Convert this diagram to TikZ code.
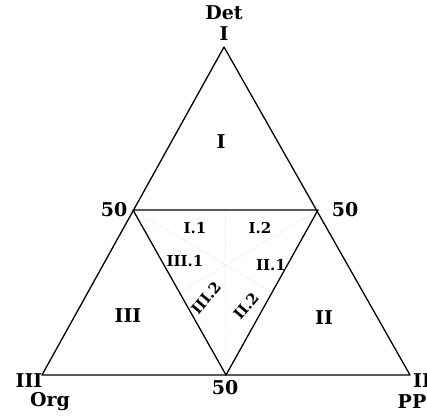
\documentclass[tikz,border=0pt]{standalone}
\usepackage{fontspec}
\setmainfont{DejaVu Serif}
\usetikzlibrary{calc}
\begin{document}
\begin{tikzpicture}[x=1pt,y=-1pt,
  edge/.style={line width=1.3pt,line join=round},
  faint/.style={densely dotted,gray!40,line width=0.5pt},
  big/.style={font=\bfseries\fontsize{19}{19}\selectfont,inner sep=0pt},
  small/.style={font=\bfseries\fontsize{15}{15}\selectfont,inner sep=0pt}]
\useasboundingbox (0,0) rectangle (427,416);
\coordinate (T) at (224,47);
\coordinate (L) at (42,375);
\coordinate (R) at (410,375);
\coordinate (ML) at (133,210);
\coordinate (MR) at (318,210);
\coordinate (MB) at (226,375);
\coordinate (MT) at ($(ML)!0.5!(MR)$);
\coordinate (mL) at ($(ML)!0.5!(MB)$);
\coordinate (mR) at ($(MR)!0.5!(MB)$);
% faint partition lines
\draw[faint] (MT) -- (MB);
\draw[faint] (ML) -- (mR);
\draw[faint] (MR) -- (mL);
\draw[edge] (T) -- (R) -- (L) -- cycle;
\draw[edge] (ML) -- (MR) -- (MB) -- cycle;
% labels
\node[big] (det) at (224,13) {Det};
\node[big] (tI) at (224,34) {I};
\node[big] (rI) at (221,142) {I};
\node[big] (l50) at (114,210) {50};
\node[big] (r50) at (345,210) {50};
\node[big] (b50) at (225,388) {50};
\node[big] (lIII) at (29,381) {III};
\node[big] (org) at (50,402) {Org};
\node[big,anchor=west] (rII) at (413,381) {II};
\node[big] (pp) at (412,402) {PP};
\node[big] (rIII) at (128,316) {III};
\node[big] (rII2) at (324,318) {II};
\node[small] (i1) at (195,228) {I.1};
\node[small] (i2) at (260,228) {I.2};
\node[small] (iii1) at (185,261) {III.1};
\node[small] (ii1) at (271,265) {II.1};
\node[small,rotate=50] (iii2) at (206,298) {III.2};
\node[small,rotate=50] (ii2) at (246,306) {II.2};
\end{tikzpicture}
\end{document}
